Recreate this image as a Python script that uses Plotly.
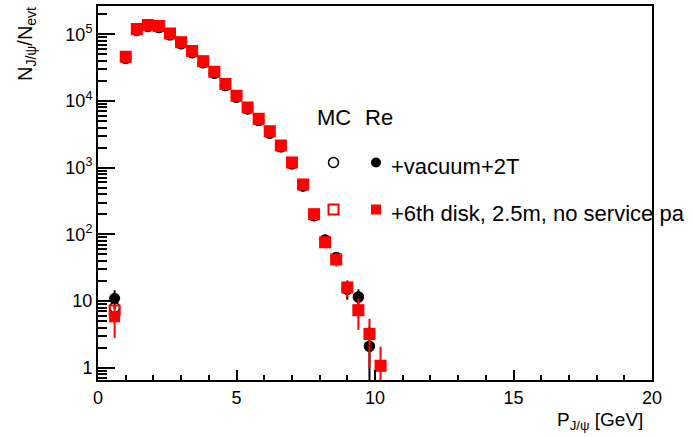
import plotly.graph_objects as go

# ---------------- data ----------------
p_gev = [0.6, 1.0, 1.4, 1.8, 2.2, 2.6, 3.0, 3.4, 3.8, 4.2, 4.6, 5.0, 5.4,
         5.8, 6.2, 6.6, 7.0, 7.4, 7.8, 8.2, 8.6, 9.0, 9.4, 9.8, 10.2]

# vacuum + 2T  (reconstructed, filled black circles)
re_vac = [11, 43500, 114000, 131000, 126000, 98000, 72000, 53000, 37500,
          26000, 17000, 11400, 7600, 5100, 3300, 2050, 1140, 530, 190,
          82, 45, 15, 11.5, 2.1, None]
re_vac_err = [3.5, 300, 600, 650, 640, 560, 480, 410, 350, 290, 240, 190,
              160, 130, 100, 80, 60, 40, 24, 14, 9, 4.5, 3.5, 2.0, 0]
# vacuum + 2T  (MC, open black circles)
mc_vac = [8, 43500, 114000, 131000, 126000, 98000, 72000, 53000, 37500,
          26000, 17000, 11400, 7600, 5100, 3300, 2050, 1140, 530, 190,
          82, 45, 15, 11.5, 2.1, None]

# 6th disk (reconstructed, filled red squares)
re_disk = [5.8, 46000, 120000, 138000, 133000, 103000, 76000, 56000, 39500,
           27500, 18000, 12000, 8000, 5400, 3500, 2150, 1200, 560, 200,
           76, 42, 16, 7.3, 3.2, 1.07]
re_disk_err = [3.0, 300, 600, 650, 640, 560, 480, 410, 350, 290, 240, 190,
               160, 130, 100, 80, 60, 40, 24, 14, 9, 4.5, 3.6, 2.2, 1.0]
# 6th disk (MC, open red squares)
mc_disk = [7.2, 46000, 120000, 138000, 133000, 103000, 76000, 56000, 39500,
           27500, 18000, 12000, 8000, 5400, 3500, 2150, 1200, 560, 200,
           76, 42, 16, 7.3, 3.2, 1.07]

x_tick_vals = [0, 5, 10, 15, 20]
x_tick_text = ["0", "5", "10", "15", "20"]
x_minor_vals = [1, 2, 3, 4, 6, 7, 8, 9, 11, 12, 13, 14, 16, 17, 18, 19]
y_tick_vals = [1, 10, 100, 1000, 10000, 100000]
y_tick_text = ["1", "10", "10<sup>2</sup>", "10<sup>3</sup>",
               "10<sup>4</sup>", "10<sup>5</sup>"]
y_minor_vals = [0.7, 0.8, 0.9,
                2, 3, 4, 5, 6, 7, 8, 9,
                20, 30, 40, 50, 60, 70, 80, 90,
                200, 300, 400, 500, 600, 700, 800, 900,
                2000, 3000, 4000, 5000, 6000, 7000, 8000, 9000,
                20000, 30000, 40000, 50000, 60000, 70000, 80000, 90000,
                200000]

legend_header = ["MC", "Re"]
legend_labels = ["+vacuum+2T", "+6th disk, 2.5m, no service pa"]
x_title = "P<sub>J/ψ</sub> [GeV]"
y_title = "N<sub>J/ψ</sub>/N<sub>evt</sub>"

# ---------------- layout geometry (pixels) ----------------
W, H = 692, 437
L, R, T, B = 98, 652, 6, 380
FONT = "Liberation Sans, Arial, Helvetica, sans-serif"


def px(x):
    return (x - L) / (R - L)


def py(y):
    return (B - y) / (B - T)


fig = go.Figure()

fig.add_trace(go.Scatter(
    x=p_gev, y=mc_vac, mode="markers", hoverinfo="skip", showlegend=False,
    marker=dict(symbol="circle-open", size=10, color="black",
                line=dict(width=1.5, color="black"))))
fig.add_trace(go.Scatter(
    x=p_gev, y=re_vac, mode="markers", hoverinfo="skip", showlegend=False,
    marker=dict(symbol="circle", size=11, color="black"),
    error_y=dict(type="data", array=re_vac_err, visible=True,
                 color="black", thickness=2, width=0)))
fig.add_trace(go.Scatter(
    x=p_gev, y=mc_disk, mode="markers", hoverinfo="skip", showlegend=False,
    marker=dict(symbol="square-open", size=10, color="red",
                line=dict(width=2, color="red"))))
fig.add_trace(go.Scatter(
    x=p_gev, y=re_disk, mode="markers", hoverinfo="skip", showlegend=False,
    marker=dict(symbol="square", size=11, color="red"),
    error_y=dict(type="data", array=re_disk_err, visible=True,
                 color="red", thickness=2, width=0)))

# legend keys on a pixel-mapped overlay axis
leg_x_mc, leg_x_re = 333.5, 376
leg_y = [162.5, 209.5]
fig.add_trace(go.Scatter(
    x=[leg_x_mc], y=[leg_y[0]], xaxis="x2", yaxis="y2", mode="markers",
    hoverinfo="skip", showlegend=False,
    marker=dict(symbol="circle-open", size=10, color="black",
                line=dict(width=1.5, color="black"))))
fig.add_trace(go.Scatter(
    x=[leg_x_re], y=[leg_y[0]], xaxis="x2", yaxis="y2", mode="markers",
    hoverinfo="skip", showlegend=False,
    marker=dict(symbol="circle", size=10, color="black")))
fig.add_trace(go.Scatter(
    x=[leg_x_mc], y=[leg_y[1]], xaxis="x2", yaxis="y2", mode="markers",
    hoverinfo="skip", showlegend=False,
    marker=dict(symbol="square-open", size=10, color="red",
                line=dict(width=2, color="red"))))
fig.add_trace(go.Scatter(
    x=[leg_x_re], y=[leg_y[1]], xaxis="x2", yaxis="y2", mode="markers",
    hoverinfo="skip", showlegend=False,
    marker=dict(symbol="square", size=10, color="red")))

annotations = [
    dict(text=legend_header[0], x=px(315), y=py(118), xanchor="left",
         yanchor="middle", font=dict(size=22)),
    dict(text=legend_header[1], x=px(363), y=py(118), xanchor="left",
         yanchor="middle", font=dict(size=22)),
    dict(text=legend_labels[0], x=px(389), y=py(166), xanchor="left",
         yanchor="middle", font=dict(size=22)),
    dict(text=legend_labels[1], x=px(389), y=py(213), xanchor="left",
         yanchor="middle", font=dict(size=22)),
    dict(text=x_title, x=px(645), y=py(421), xanchor="right",
         yanchor="middle", font=dict(size=19)),
    dict(text=y_title, x=px(26), y=py(5), xanchor="center",
         yanchor="top", textangle=-90, font=dict(size=20)),
]
for a in annotations:
    a.update(xref="paper", yref="paper", showarrow=False)
    a["font"].update(family=FONT, color="black")

axis_common = dict(showline=True, linewidth=2, linecolor="black", mirror=True,
                   ticks="inside", tickwidth=2, tickcolor="black",
                   showgrid=False, zeroline=False,
                   tickfont=dict(family=FONT, size=18, color="black"))

fig.update_layout(
    width=W, height=H,
    margin=dict(l=L, r=W - R, t=T, b=H - B, pad=0, autoexpand=False),
    paper_bgcolor="white", plot_bgcolor="white",
    font=dict(family=FONT, color="black"),
    xaxis=dict(range=[0, 20], tickmode="array", tickvals=x_tick_vals,
               ticktext=x_tick_text, ticklen=10,
               minor=dict(ticks="inside", ticklen=5, tickwidth=2,
                          tickcolor="black", tickmode="array",
                          tickvals=x_minor_vals, showgrid=False),
               **axis_common),
    yaxis=dict(type="log", range=[-0.184, 5.424], tickmode="array",
               tickvals=y_tick_vals, ticktext=y_tick_text, ticklen=17,
               minor=dict(ticks="inside", ticklen=9, tickwidth=2,
                          tickcolor="black", tickmode="array",
                          tickvals=y_minor_vals, showgrid=False),
               **axis_common),
    xaxis2=dict(overlaying="x", range=[L, R], visible=False),
    yaxis2=dict(overlaying="y", range=[B, T], visible=False),
    annotations=annotations,
    showlegend=False,
)

fig.write_html("out.html")
